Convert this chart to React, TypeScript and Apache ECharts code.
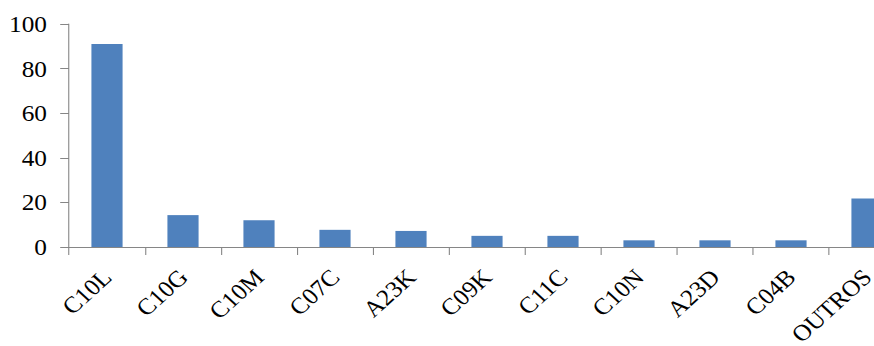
import React, { useEffect, useRef } from "react";
import * as echarts from "echarts";

const categories = ["C10L", "C10G", "C10M", "C07C", "A23K", "C09K", "C11C", "C10N", "A23D", "C04B", "OUTROS"];
const values = [91, 14.3, 12, 7.7, 7.2, 5, 5, 3, 3, 3, 21.8];
const yTicks = { min: 0, max: 100, interval: 20 };

const SX = 1.1;

export default function App() {
  const ref = useRef<HTMLDivElement>(null);
  useEffect(() => {
    if (!ref.current) return;
    const chart = echarts.init(ref.current, null, { renderer: "svg" });
    const axisColor = "#868686";
    const font = "'Liberation Serif', 'Times New Roman', serif";
    chart.setOption({
      animation: false,
      grid: {
        left: 69 / SX,
        top: 24,
        bottom: 99,
        right: 860 - 69 / SX - (76 * 11) / SX,
        outerBoundsMode: "none",
        containLabel: false,
      },
      xAxis: {
        type: "category",
        data: categories,
        axisLine: { lineStyle: { color: axisColor, width: 1 } },
        axisTick: { show: true, length: 8, lineStyle: { color: axisColor } },
        axisLabel: {
          rotate: 45,
          interval: 0,
          margin: 26,
          color: "#000",
          fontFamily: font,
          fontSize: 23,
        },
      },
      yAxis: {
        type: "value",
        min: yTicks.min,
        max: yTicks.max,
        interval: yTicks.interval,
        axisLine: { show: true, lineStyle: { color: axisColor, width: 1 } },
        axisTick: { show: true, length: 8, lineStyle: { color: axisColor } },
        splitLine: { show: false },
        axisLabel: {
          margin: 20,
          color: "#000",
          fontFamily: font,
          fontSize: 23,
        },
      },
      series: [
        {
          type: "bar",
          data: values,
          barWidth: "41%",
          itemStyle: { color: "#4F81BD" },
        },
      ],
    });
    return () => chart.dispose();
  }, []);
  return (
    <div style={{ position: "fixed", left: 0, top: 0, width: 874, height: 346, overflow: "hidden", background: "#fff" }}>
      <div
        ref={ref}
        style={{ width: 860, height: 346, transform: `scaleX(${SX})`, transformOrigin: "0 0" }}
      />
    </div>
  );
}
